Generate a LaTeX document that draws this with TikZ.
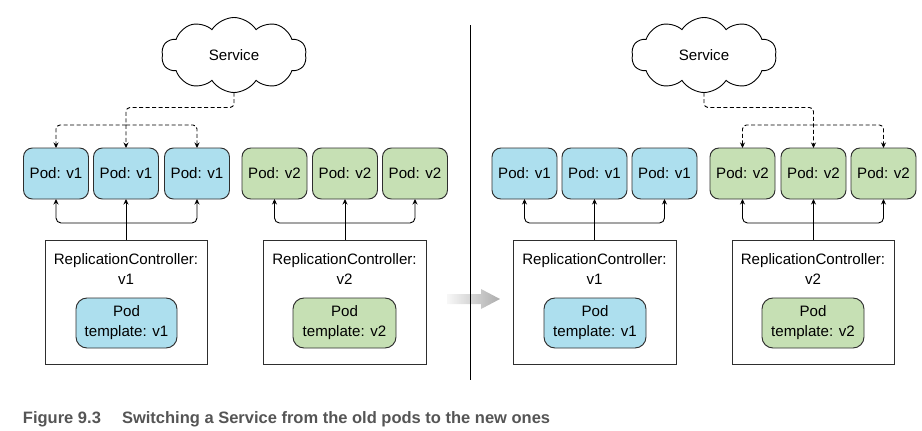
\documentclass[tikz,border=0pt]{standalone}
\usepackage{fontspec}
\setmainfont{Liberation Sans}
\usetikzlibrary{shapes.symbols,arrows.meta,calc}
\definecolor{podblue}{HTML}{ADDFEE}
\definecolor{podgreen}{HTML}{C6E0B4}
\definecolor{edge}{HTML}{2E2E2E}
\definecolor{captext}{HTML}{555555}
\begin{document}
\begin{tikzpicture}[x=1pt,y=-1pt,
  every node/.style={font=\fontsize{15.1pt}{20pt}\selectfont, inner sep=0pt, outer sep=0pt},
  svc/.style={cloud, cloud puffs=10, cloud puff arc=115, aspect=2, draw=black, line width=0.9pt, minimum width=145pt, minimum height=75pt},
  pod/.style={rectangle, rounded corners=9pt, draw=edge, line width=0.95pt, minimum width=65pt, minimum height=51pt},
  podA/.style={pod, fill=podblue},
  podB/.style={pod, fill=podgreen},
  rcbox/.style={rectangle, draw=edge, line width=0.95pt, minimum height=124pt},
  tmpl/.style={rectangle, rounded corners=11pt, draw=edge, line width=0.95pt, minimum height=50pt, align=center},
  rctext/.style={align=center},
  tipp/.style={-{Stealth[length=5.5pt,width=5pt]}},
  dconn/.style={tipp, dash pattern=on 4pt off 2.5pt, line width=0.9pt, rounded corners=4pt},
  sconn/.style={tipp, line width=0.9pt, rounded corners=5pt},
  captionstyle/.style={font=\fontsize{16.5pt}{20pt}\selectfont\bfseries, text=captext, anchor=base west}
]
\useasboundingbox (0,0) rectangle (922,431);

% ---------- left panel ----------
\node[svc] (svcL) at (234,55) {Service};
\node[podA] (pL1) at (56,173.5) {Pod: v1};
\node[podA] (pL2) at (126,173.5) {Pod: v1};
\node[podA] (pL3) at (197,173.5) {Pod: v1};
\node[podB] (pL4) at (274.5,173.5) {Pod: v2};
\node[podB] (pL5) at (345,173.5) {Pod: v2};
\node[podB] (pL6) at (415,173.5) {Pod: v2};

\node[rcbox, minimum width=162pt] (rcL1) at (126,302) {};
\node[rctext] (rcL1t) at (126,269) {ReplicationController:\\v1};
\node[tmpl, fill=podblue, minimum width=101pt] (tL1) at (126.5,323) {Pod\\template: v1};

\node[rcbox, minimum width=163pt] (rcL2) at (344.5,302) {};
\node[rctext] (rcL2t) at (344.5,269) {ReplicationController:\\v2};
\node[tmpl, fill=podgreen, minimum width=103pt] (tL2) at (344.5,323) {Pod\\template: v2};

\coordinate (dL) at (126,125);
\draw[dconn] (svcL.south) -- ++(0,15) -| (pL2.north);
\draw[dconn] (dL) -| (pL1.north);
\draw[dconn] (dL) -| (pL3.north);

\coordinate (hL1) at (126,223);
\draw[sconn] (rcL1.north) -- (pL2.south);
\draw[sconn] (hL1) -| (pL1.south);
\draw[sconn] (hL1) -| (pL3.south);
\coordinate (hL2) at (345,223);
\draw[sconn] (rcL2.north -| pL5.south) -- (pL5.south);
\draw[sconn] (hL2) -| (pL4.south);
\draw[sconn] (hL2) -| (pL6.south);

% ---------- transition ----------
\shade[left color=gray!6, right color=gray!65]
  (447,294) -- (481,294) -- (481,289) -- (500,299) -- (481,309) -- (481,304) -- (447,304) -- cycle;
\coordinate (divT) at (470,25);
\coordinate (divB) at (470,380);
\draw[line width=1pt] (divT) -- (divB);

% ---------- right panel ----------
\node[svc] (svcR) at (704,55) {Service};
\node[podA] (pR1) at (524.5,173.5) {Pod: v1};
\node[podA] (pR2) at (594.5,173.5) {Pod: v1};
\node[podA] (pR3) at (664.5,173.5) {Pod: v1};
\node[podB] (pR4) at (742.5,173.5) {Pod: v2};
\node[podB] (pR5) at (813.5,173.5) {Pod: v2};
\node[podB] (pR6) at (883.5,173.5) {Pod: v2};

\node[rcbox, minimum width=163pt] (rcR1) at (594.5,302) {};
\node[rctext] (rcR1t) at (594.5,269) {ReplicationController:\\v1};
\node[tmpl, fill=podblue, minimum width=102pt] (tR1) at (595,323) {Pod\\template: v1};

\node[rcbox, minimum width=162pt] (rcR2) at (813,302) {};
\node[rctext] (rcR2t) at (813,269) {ReplicationController:\\v2};
\node[tmpl, fill=podgreen, minimum width=102pt] (tR2) at (813,323) {Pod\\template: v2};

\coordinate (dR) at (813.5,125);
\draw[dconn] (svcR.south) -- ++(0,15) -| (pR5.north);
\draw[dconn] (dR) -| (pR4.north);
\draw[dconn] (dR) -| (pR6.north);

\coordinate (hR1) at (594.5,223);
\draw[sconn] (rcR1.north) -- (pR2.south);
\draw[sconn] (hR1) -| (pR1.south);
\draw[sconn] (hR1) -| (pR3.south);
\coordinate (hR2) at (813.5,223);
\draw[sconn] (rcR2.north -| pR5.south) -- (pR5.south);
\draw[sconn] (hR2) -| (pR4.south);
\draw[sconn] (hR2) -| (pR6.south);

% ---------- caption ----------
\node[captionstyle] (capA) at (23,423) {Figure 9.3};
\node[captionstyle] (capB) at (122,423) {Switching a Service from the old pods to the new ones};
\end{tikzpicture}
\end{document}
